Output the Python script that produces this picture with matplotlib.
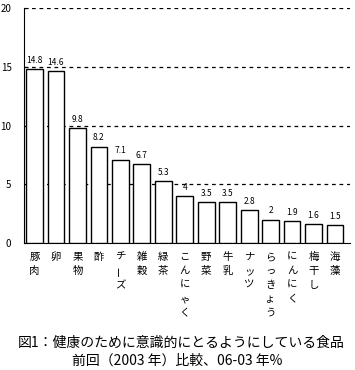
import numpy as np
import matplotlib
matplotlib.use('Agg')
import matplotlib.pyplot as plt
import matplotlib.transforms as mtransforms

plt.rcParams['font.family'] = ['Noto Sans CJK JP', 'DejaVu Sans']

# data
foods = ['豚肉', '卵', '果物', '酢', 'チーズ', '雑穀', '緑茶', 'こんにゃく',
         '野菜', '牛乳', 'ナッツ', 'らっきょう', 'にんにく', '梅干し', '海藻']
values = [14.8, 14.6, 9.8, 8.2, 7.1, 6.7, 5.3, 4, 3.5, 3.5, 2.8, 2, 1.9, 1.6, 1.5]
yticks = [0, 5, 10, 15, 20]
title1 = '図1：健康のために意識的にとるようにしている食品'
title2 = '前回（2003 年）比較、06-03 年%'

W, H = 355, 370
fig = plt.figure(figsize=(W / 100, H / 100), dpi=100)
ax = fig.add_axes([24 / W, 1 - 243 / H, (350 - 24) / W, (243 - 8) / H])

x = np.arange(len(foods))
ax.bar(x, values, width=0.78, color='white', edgecolor='black', linewidth=1, zorder=3)

for xi, v in zip(x, values):
    ax.annotate(f'{v:g}', (xi, v), xytext=(0, 3), textcoords='offset points',
                ha='center', va='bottom', fontsize=6)

ax.set_xlim(-0.49, 14.7)
ax.set_ylim(0, 20)
ax.set_yticks(yticks)
ax.set_yticklabels([str(t) for t in yticks], fontsize=7)
ax.tick_params(axis='y', direction='in', length=3, pad=9)
ax.set_xticks([])
for t in yticks[1:]:
    ax.axhline(t, color='black', lw=0.9, ls=(0, (3, 3)), zorder=1)
ax.spines['top'].set_visible(False)
ax.spines['right'].set_visible(False)

# vertical category labels, one character per line
tr = mtransforms.blended_transform_factory(ax.transData, fig.transFigure)
for xi, name in zip(x, foods):
    for k, ch in enumerate(name):
        ypix = 257 + 14 * k
        rot = 90 if ch == 'ー' else 0
        ax.text(xi, 1 - ypix / H, ch, transform=tr, ha='center', va='center',
                fontsize=7.5, rotation=rot)

fig.text(0.51, 1 - 343 / H, title1, ha='center', va='center', fontsize=10)
fig.text(0.5, 1 - 361 / H, title2, ha='center', va='center', fontsize=10)

fig.savefig('out.png', dpi=100)
